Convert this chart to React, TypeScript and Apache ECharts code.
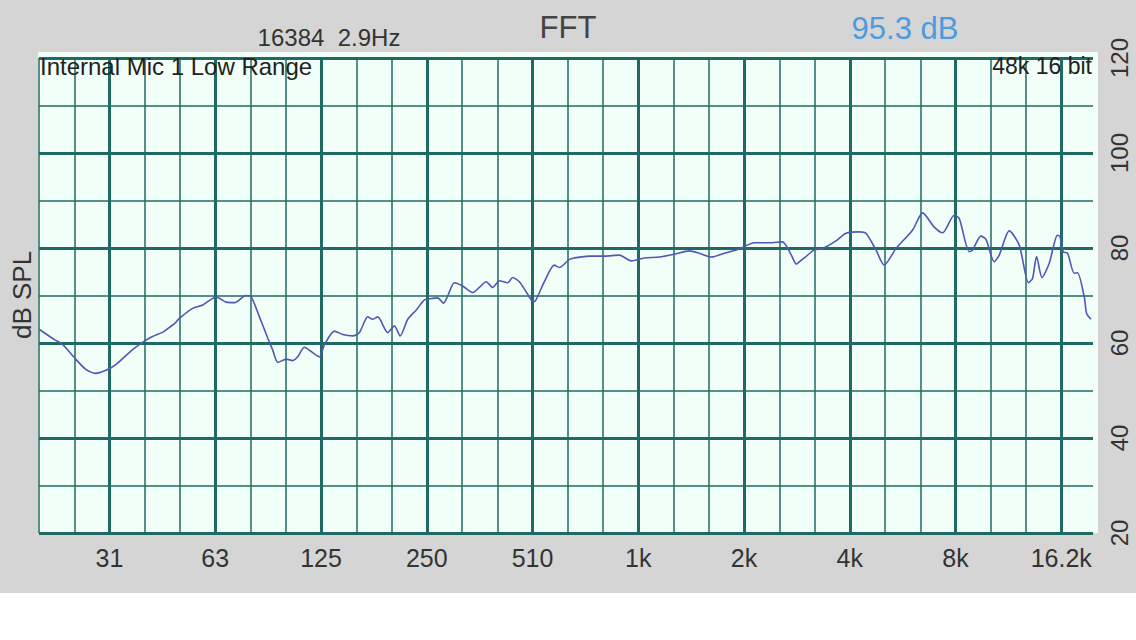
import React, { useEffect, useRef } from "react";
import * as echarts from "echarts";

// Measured response (frequency in Hz, level in dB SPL)
const freqHz = [
  19.7, 21.9, 22.9, 24.7, 26.7, 28.5, 30.4, 32.5, 36.2, 39.1, 41.3, 44.6, 46.3, 48.2, 49.4,
  53.9, 57.6, 62.9, 67.1, 70.9, 76.5, 79.1, 83.5, 88.2, 91.1, 94.2, 99.5, 103.8, 107.3, 112.1,
  117.2, 123.7, 127.8, 136.5, 144.1, 153.9, 160.8, 169.8, 175.5, 181.3, 193.5, 202.2, 210.0,
  220.7, 233.1, 246.1, 254.4, 268.5, 278.8, 286.8, 299.6, 316.3, 337.8, 352.9, 368.9, 385.1,
  402.4, 425.0, 439.0, 458.7, 479.4, 502.8, 511.6, 540.4, 576.8, 596.3, 636.5, 657.7, 725.6,
  800.6, 883.3, 955.6, 1040, 1148, 1267, 1398, 1492, 1615, 1758, 1939, 2140, 2361, 2571, 2727,
  2818, 2873, 3002, 3170, 3348, 3654, 3902, 4258, 4447, 4748, 5014, 5416, 6040, 6447, 6961,
  7349, 7935, 8199, 8756, 8947, 9449, 9768, 10311, 10654, 11379, 12146, 12910, 13255, 13607,
  14097, 14788, 15611, 15861, 16205, 16672, 17416, 17794, 18603, 18889, 19436,
];
const levelDb = [
  62.9, 60.6, 59.8, 57.1, 54.5, 53.6, 54.2, 55.4, 58.5, 60.3, 61.3, 62.4, 63.3, 64.3, 65.2,
  67.3, 68.0, 69.7, 68.6, 68.5, 70.0, 69.7, 65.5, 61.0, 58.5, 55.9, 56.6, 56.3, 57.1, 59.1,
  58.2, 57.1, 59.6, 62.5, 61.8, 61.5, 62.2, 65.5, 65.0, 65.5, 62.2, 63.6, 61.5,
  65.0, 66.9, 69.1, 69.3, 69.5, 68.4, 69.9, 72.7, 72.0, 70.6, 71.7, 72.9, 71.7,
  73.1, 72.7, 73.8, 72.9, 70.8, 68.7, 69.1, 72.9, 76.4, 75.9, 77.6, 77.9, 78.3,
  78.3, 78.5, 77.3, 77.9, 78.1, 78.7, 79.4, 78.9, 78.1, 78.9, 79.8, 81.1, 81.1, 81.3, 78.5,
  76.6, 77.1, 78.2, 79.6, 79.9, 81.5, 83.1, 83.4, 83.1, 79.6, 76.4, 79.9, 83.8, 87.4, 84.4,
  83.2, 86.9, 86.2, 79.2, 79.6, 82.5, 81.8, 77.1, 78.5, 83.6, 80.6, 72.7, 73.6, 78.2,
  73.8, 76.8, 82.7, 82.4, 79.2, 78.9, 74.7, 74.8, 69.7, 66.2, 65.0,
];

// Octave tick labels (every third of the third-octave grid lines)
const octaveLabels = ["31", "63", "125", "250", "510", "1k", "2k", "4k", "8k", "16.2k"];

const F0 = 19.686; // left edge of the plot in Hz (31.25 Hz two thirds of an octave lower)
const X_MAX = 29.9; // right edge in third-octaves above F0
const GRID_COLOR = "#1f6b63";
const FONT = "'Liberation Sans', Arial, sans-serif";

const toThird = (f: number) => 3 * Math.log2(f / F0);

export default function App() {
  const ref = useRef<HTMLDivElement | null>(null);

  useEffect(() => {
    if (!ref.current) return;
    const chart = echarts.init(ref.current, null, { renderer: "svg" });

    const pts = freqHz.map((f, i) => [toThird(f), levelDb[i]]);
    const vlines: any[] = [];
    for (let u = 0; u <= 29; u++) {
      const thick = u >= 2 && (u - 2) % 3 === 0;
      vlines.push({ xAxis: u, lineStyle: { width: thick ? 3 : 1.5, color: GRID_COLOR, type: "solid" } });
    }

    chart.setOption({
      animation: false,
      backgroundColor: "#ffffff",
      textStyle: { fontFamily: FONT },
      grid: { left: 39, top: 58, right: 43, bottom: 107, containLabel: false },
      xAxis: {
        type: "value",
        min: 0,
        max: X_MAX,
        interval: 1,
        axisLine: { show: false },
        axisTick: { show: false },
        splitLine: { show: false },
        axisLabel: {
          fontSize: 25,
          color: "#333",
          margin: 12,
          fontFamily: FONT,
          formatter: (v: number) => {
            const r = Math.round(v);
            if (Math.abs(v - r) < 1e-6 && r >= 2 && (r - 2) % 3 === 0) return octaveLabels[(r - 2) / 3] || "";
            return "";
          },
        },
      },
      yAxis: [
        {
          type: "value",
          position: "right",
          min: 20,
          max: 120,
          interval: 10,
          axisLine: { show: false },
          axisTick: { show: false },
          splitLine: { show: true, lineStyle: { color: GRID_COLOR, width: 1.5 } },
          axisLabel: {
            rotate: 90,
            fontSize: 24,
            color: "#333",
            margin: 14,
            fontFamily: FONT,
            formatter: (v: number) => (v % 20 === 0 ? String(v) : ""),
          },
        },
        {
          type: "value",
          position: "right",
          min: 20,
          max: 120,
          interval: 20,
          axisLine: { show: false },
          axisTick: { show: false },
          axisLabel: { show: false },
          splitLine: { show: true, lineStyle: { color: GRID_COLOR, width: 3 } },
        },
      ],
      graphic: [
        { type: "rect", z: -20, shape: { x: 0, y: 0, width: 1136, height: 593 }, style: { fill: "#d5d5d5" } },
        { type: "rect", z: -19, shape: { x: 38, y: 52, width: 1060, height: 481 }, style: { fill: "#f1fff8" } },
        {
          type: "text", z: 50, x: 568, y: 27,
          style: { text: "FFT", fontSize: 31, fill: "#444", align: "center", verticalAlign: "middle", fontFamily: FONT },
        },
        {
          type: "text", z: 50, x: 329, y: 37,
          style: { text: "16384  2.9Hz", fontSize: 24, fill: "#333", align: "center", verticalAlign: "middle", fontFamily: FONT },
        },
        {
          type: "text", z: 50, x: 905, y: 28,
          style: { text: "95.3 dB", fontSize: 31, fill: "#4b9be0", align: "center", verticalAlign: "middle", fontFamily: FONT },
        },
        {
          type: "text", z: 50, x: 40, y: 66,
          style: { text: "Internal Mic 1 Low Range", fontSize: 24, fill: "#222", align: "left", verticalAlign: "middle", fontFamily: FONT },
        },
        {
          type: "text", z: 50, x: 1092, y: 66,
          style: { text: "48k 16 bit", fontSize: 23, fill: "#222", align: "right", verticalAlign: "middle", fontFamily: FONT },
        },
        {
          type: "text", z: 50, x: 22, y: 295, rotation: Math.PI / 2,
          style: { text: "dB SPL", fontSize: 26, fill: "#333", align: "center", verticalAlign: "middle", fontFamily: FONT },
        },
      ],
      series: [
        {
          type: "line",
          z: 1,
          data: [],
          silent: true,
          markLine: {
            silent: true,
            symbol: ["none", "none"],
            label: { show: false },
            emphasis: { disabled: true },
            data: vlines,
          },
        },
        {
          type: "line",
          z: 5,
          data: pts,
          showSymbol: false,
          symbol: "none",
          silent: true,
          smooth: 0.25,
          lineStyle: { color: "#5157b6", width: 1.6 },
        },
      ],
    });

    return () => chart.dispose();
  }, []);

  return <div ref={ref} style={{ position: "absolute", left: 0, top: 0, width: 1136, height: 640 }} />;
}
